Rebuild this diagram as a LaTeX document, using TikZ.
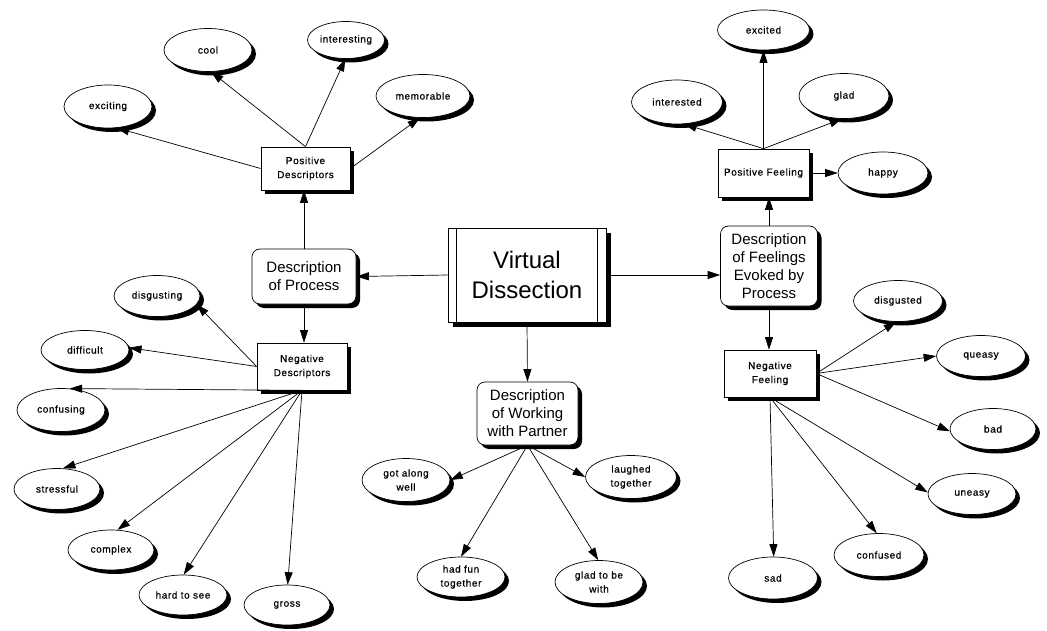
\documentclass[tikz,border=0pt]{standalone}
\usepackage{fontspec}
\setmainfont{Liberation Sans}
\newfontfamily\lblfam{Liberation Sans}[LetterSpace=6,FakeBold=0.6]
\usetikzlibrary{shapes.geometric,shadows,arrows.meta}
\tikzset{
  shad/.style={drop shadow={shadow xshift=4pt,shadow yshift=-4pt,fill=black,opacity=1}},
  leaf/.style={ellipse, draw, fill=white, shad, line width=0.7pt, minimum width=88pt, minimum height=41pt,
    inner sep=0pt, align=center, font=\fontsize{10}{14}\selectfont\lblfam},
  cat/.style={rectangle, draw, fill=white, shad, line width=0.7pt, inner sep=0pt, align=center,
    font=\fontsize{10}{14}\selectfont\lblfam},
  desc/.style={rectangle, rounded corners=8pt, draw, fill=white, shad, line width=0.7pt, inner sep=0pt,
    align=center, font=\fontsize{15}{18}\selectfont},
  link/.style={line width=0.7pt, -{Triangle[length=12.5pt,width=8pt]}},
}
\begin{document}
\begin{tikzpicture}[x=1pt,y=-1pt]
\useasboundingbox[fill=white] (0,0) rectangle (1047,631);

% central
\node[rectangle, draw, fill=white, line width=0.7pt, minimum width=158pt, minimum height=94pt, inner sep=0pt,
  align=center, font=\fontsize{24}{30}\selectfont,
  drop shadow={shadow xshift=5pt,shadow yshift=-5pt,fill=black,opacity=1}]
  (vd) at (527,275) {Virtual\\Dissection};
\draw[line width=0.7pt] ([xshift=9pt]vd.north west) -- ([xshift=9pt]vd.south west);
\draw[line width=0.7pt] ([xshift=-9pt]vd.north east) -- ([xshift=-9pt]vd.south east);

% description boxes
\node[desc, minimum width=104pt, minimum height=55pt] (dop) at (304,276.5) {Description\\of Process};
\node[desc, minimum width=97pt, minimum height=80pt] (dof) at (769,266) {Description\\of Feelings\\Evoked by\\Process};
\node[desc, minimum width=101pt, minimum height=63pt] (dwp) at (527.5,413.5) {Description\\of Working\\with Partner};

% category boxes
\node[cat, minimum width=89pt, minimum height=43pt] (pd) at (305.5,168.5) {Positive\\Descriptors};
\node[cat, minimum width=90pt, minimum height=47pt] (nd) at (302,366.5) {Negative\\Descriptors};
\node[cat, minimum width=91pt, minimum height=48pt] (pf) at (763.5,173) {Positive Feeling};
\node[cat, minimum width=92pt, minimum height=47pt] (nf) at (770,373.5) {Negative\\Feeling};

% leaves: positive descriptors
\node[leaf, minimum height=43pt] (exciting) at (108,106.5) {exciting};
\node[leaf, minimum height=43pt] (cool) at (208,50) {cool};
\node[leaf, minimum width=77pt, minimum height=37pt] (interesting) at (346,40) {interesting};
\node[leaf, minimum width=94pt, minimum height=43pt] (memorable) at (423,96) {memorable};

% leaves: negative descriptors
\node[leaf, minimum width=86pt] (disgusting) at (157,296) {disgusting};
\node[leaf, minimum height=39pt] (difficult) at (85,350) {difficult};
\node[leaf, minimum height=43pt] (confusing) at (61,410) {confusing};
\node[leaf, minimum width=86pt] (stressful) at (57,489) {stressful};
\node[leaf, minimum width=86pt, minimum height=40pt] (complex) at (111,550) {complex};
\node[leaf, minimum height=40pt] (hardtosee) at (183,595) {hard to see};
\node[leaf, minimum width=86pt, minimum height=40pt] (gross) at (287,605) {gross};

% leaves: positive feeling
\node[leaf, minimum width=92pt, minimum height=40pt] (excited) at (763.5,30) {excited};
\node[leaf, minimum width=91pt, minimum height=44pt] (interested) at (677,102) {interested};
\node[leaf, minimum width=90pt, minimum height=45pt] (glad) at (844,96) {glad};
\node[leaf, minimum width=90pt, minimum height=42pt] (happy) at (883,173) {happy};

% leaves: negative feeling
\node[leaf, minimum width=89pt] (disgusted) at (898,301) {disgusted};
\node[leaf, minimum width=89pt] (queasy) at (981,356) {queasy};
\node[leaf, minimum width=86pt] (bad) at (993,429) {bad};
\node[leaf] (uneasy) at (972,494) {uneasy};
\node[leaf, minimum width=90pt, minimum height=43pt] (confused) at (879,555) {confused};
\node[leaf, minimum width=89pt, minimum height=42pt] (sad) at (773,578) {sad};

% leaves: working with partner
\node[leaf, minimum width=88pt, minimum height=43pt] (gotalong) at (406,480) {got along\\well};
\node[leaf, minimum width=91pt, minimum height=43pt] (laughed) at (631,477) {laughed\\together};
\node[leaf, minimum width=88pt, minimum height=40pt] (hadfun) at (461,577) {had fun\\together};
\node[leaf, minimum width=88pt, minimum height=43pt] (gladto) at (599,582) {glad to be\\with};

% main connectors
\draw[link] (vd.west) -- (dop.east);
\draw[link] (vd.east) -- (dof.west |- vd.east);
\draw[link] (vd.south) -- (dwp.north);
\draw[link] (dop.north) -- (dop.north |- pd.south);
\draw[link] (dop.south) -- (dop.south |- nd.north);
\draw[link] (dof.north) -- (dof.north |- pf.south);
\draw[link] (dof.south) -- (dof.south |- nf.north);

% positive descriptors
\draw[link] (pd.west) -- (exciting.-68);
\draw[link] (pd.north) -- (cool.-82);
\draw[link] (pd.north) -- (interesting.-92);
\draw[link] (pd.east) -- (memorable.-98);

% negative descriptors
\draw[link] (nd.west) -- (disgusting.-12);
\draw[link] (nd.west) -- (difficult.3);
\draw[link] (nd.south) -- (confusing.68);
\draw[link] (nd.south) -- (stressful.74);
\draw[link] (nd.south) -- (complex.72);
\draw[link] (nd.south) -- (hardtosee.88);
\draw[link] (nd.south) -- (gross.88);

% positive feeling
\draw[link] (pf.north) -- (excited.south);
\draw[link] (pf.north) -- (interested.-72);
\draw[link] (pf.north) -- (glad.-95);
\draw[link] (pf.east) -- (happy.west);

% negative feeling
\draw[link] (nf.east) -- (disgusted.-95);
\draw[link] (nf.east) -- (queasy.west);
\draw[link] (nf.east) -- (bad.183);
\draw[link] (nf.south) -- (uneasy.178);
\draw[link] (nf.south) -- (confused.96);
\draw[link] (nf.south) -- (sad.88);

% working with partner
\draw[link] (dwp.south) -- (gotalong.east);
\draw[link] (dwp.south) -- (hadfun.90);
\draw[link] (dwp.south) -- (gladto.92);
\draw[link] (dwp.south) -- (laughed.west);
\end{tikzpicture}
\end{document}
